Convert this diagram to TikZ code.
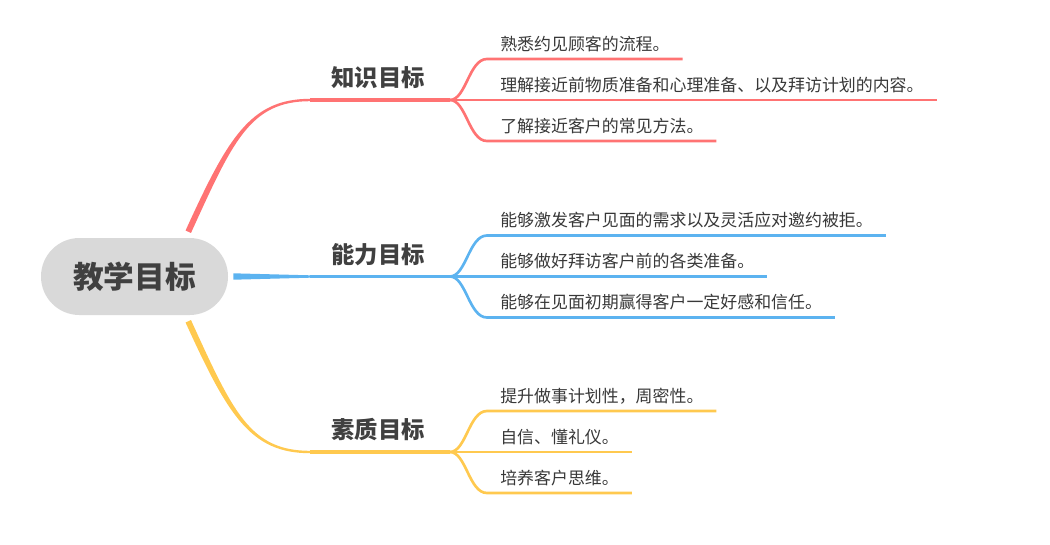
\documentclass[tikz,border=0pt]{standalone}
\usepackage{fontspec}
\usetikzlibrary{calc}
\newfontfamily\cjk{Noto Sans CJK SC}
\definecolor{knowred}{HTML}{FF7373}
\definecolor{skillblue}{HTML}{5CB3F0}
\definecolor{qualyellow}{HTML}{FFC94F}
\definecolor{rootgray}{HTML}{D9D9D9}
\definecolor{titlegray}{HTML}{404040}
\definecolor{leafgray}{HTML}{383838}

\begin{document}
\begin{tikzpicture}[x=0.75pt, y=-0.75pt, every node/.style={font=\cjk}]
    \tikzset{root/.style={rectangle, fill=rootgray, rounded corners=28.8pt, minimum width=140.25pt, minimum height=57.75pt, text=titlegray, font=\cjk\bfseries\fontsize{23}{23}\selectfont}}
    \tikzset{topic/.style={inner sep=0pt, text=titlegray, font=\cjk\bfseries\fontsize{17.5}{17.5}\selectfont}}
    \tikzset{leaf/.style={anchor=west, inner sep=0pt, text=leafgray, font=\cjk\fontsize{12.7}{12.7}\selectfont}}
    \tikzset{bough/.style={draw, line width=2.3pt}}
    \tikzset{twig/.style={draw, line width=2pt}}
    \useasboundingbox (0,0) rectangle (1050,544);

    \node [root] (root) at (134.5,276.5) {教学目标};

    \node [topic] (know) at (378,78) {知识目标};
    \node [topic] (skill) at (378,254.5) {能力目标};
    \node [topic] (qual) at (378,430) {素质目标};

    \node [leaf] (k1) at (500,44) {熟悉约见顾客的流程。};
    \node [leaf] (k2) at (500,85) {理解接近前物质准备和心理准备、以及拜访计划的内容。};
    \node [leaf] (k3) at (500,126) {了解接近客户的常见方法。};

    \node [leaf] (s1) at (500,220.5) {能够激发客户见面的需求以及灵活应对邀约被拒。};
    \node [leaf] (s2) at (500,261.5) {能够做好拜访客户前的各类准备。};
    \node [leaf] (s3) at (500,302.5) {能够在见面初期赢得客户一定好感和信任。};

    \node [leaf] (q1) at (500,396) {提升做事计划性，周密性。};
    \node [leaf] (q2) at (500,437) {自信、懂礼仪。};
    \node [leaf] (q3) at (500,478) {培养客户思维。};

    % branch ends and forks
    \coordinate (know0) at ($(know)+(-68,22)$);
    \coordinate (knowf) at ($(know)+(72,22)$);
    \coordinate (skill0) at ($(skill)+(-68,22)$);
    \coordinate (skillf) at ($(skill)+(72,22)$);
    \coordinate (qual0) at ($(qual)+(-68,22)$);
    \coordinate (qualf) at ($(qual)+(72,22)$);
    \coordinate (rk) at ($(root.north east)+(-40,-6)$);
    \coordinate (rs) at ($(root.east)+(5,0)$);
    \coordinate (rq) at ($(root.south east)+(-40,6)$);

    % tapered branches out of the root
    \fill [knowred] ($(rk)+(-2.7,-1.25)$) .. controls +(42,-92) and +(-60,0) .. ($(know0)+(0,-1.2)$)
        -- ($(know0)+(0,1.2)$) .. controls +(-60,0) and +(42,-92) .. ($(rk)+(2.7,1.25)$) -- cycle;
    \fill [skillblue] ($(rs)+(0,-3.2)$) -- ($(skill0)+(0,-1.2)$) -- ($(skill0)+(0,1.2)$) -- ($(rs)+(0,3.2)$) -- cycle;
    \fill [qualyellow] ($(rq)+(2.7,-1.25)$) .. controls +(42,92) and +(-60,0) .. ($(qual0)+(0,-1.2)$)
        -- ($(qual0)+(0,1.2)$) .. controls +(-60,0) and +(42,92) .. ($(rq)+(-2.7,1.25)$) -- cycle;

    \path [bough, knowred] (know0) -- (knowf);
    \path [bough, skillblue] (skill0) -- (skillf);
    \path [bough, qualyellow] (qual0) -- (qualf);

    % leaves
    \path [twig, knowred] (knowf) .. controls +(16,0) and +(-18,0) .. ($(k1.west)+(-13,15)$) -- ($(k1.east)+(12.7,15)$);
    \path [twig, knowred] (knowf) -- ($(k2.east)+(12.7,15)$);
    \path [twig, knowred] (knowf) .. controls +(16,0) and +(-18,0) .. ($(k3.west)+(-13,15)$) -- ($(k3.east)+(12.7,15)$);

    \path [twig, skillblue] (skillf) .. controls +(16,0) and +(-18,0) .. ($(s1.west)+(-13,15)$) -- ($(s1.east)+(12.7,15)$);
    \path [twig, skillblue] (skillf) -- ($(s2.east)+(12.7,15)$);
    \path [twig, skillblue] (skillf) .. controls +(16,0) and +(-18,0) .. ($(s3.west)+(-13,15)$) -- ($(s3.east)+(12.7,15)$);

    \path [twig, qualyellow] (qualf) .. controls +(16,0) and +(-18,0) .. ($(q1.west)+(-13,15)$) -- ($(q1.east)+(12.7,15)$);
    \path [twig, qualyellow] (qualf) -- ($(q2.east)+(12.7,15)$);
    \path [twig, qualyellow] (qualf) .. controls +(16,0) and +(-18,0) .. ($(q3.west)+(-13,15)$) -- ($(q3.east)+(12.7,15)$);
\end{tikzpicture}
\end{document}
